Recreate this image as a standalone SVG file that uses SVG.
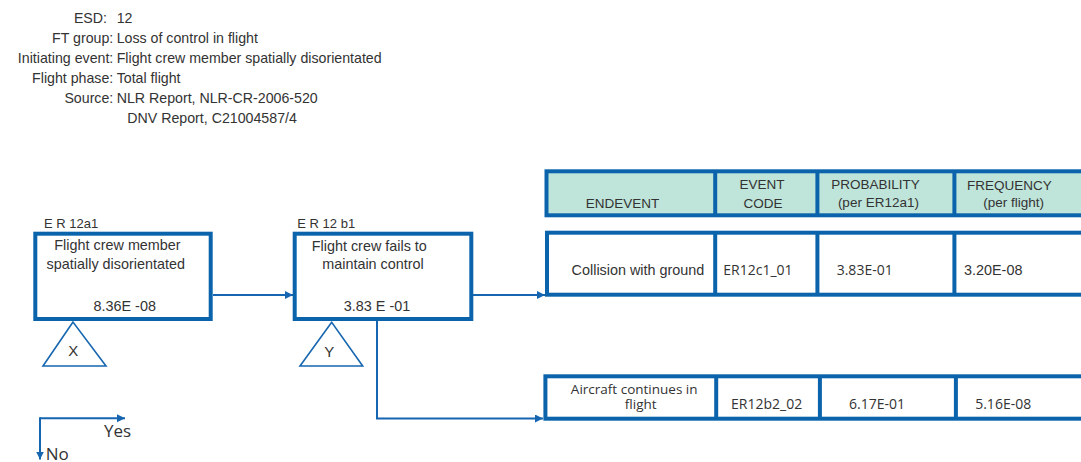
<svg xmlns="http://www.w3.org/2000/svg" width="1081" height="462" viewBox="0 0 1081 462">
<style>
text{font-family:"Liberation Sans",Arial,sans-serif;fill:#333}
.t{font-size:14.2px}
.b{font-size:14.4px}
.h{font-size:13.5px}
.o{font-family:"Open Sans","Liberation Sans",sans-serif;font-size:14px}
.o2{font-family:"Open Sans","Liberation Sans",sans-serif;font-size:13.5px}
.lab{font-size:13px}
.tri{font-size:15px}
.box{fill:#fff;stroke:#0b64ab;stroke-width:4}
.hdr{fill:#bfe4da;stroke:#0b64ab;stroke-width:4}
.sep{stroke:#0b64ab;stroke-width:4}
.tr{fill:none;stroke:#1767b0;stroke-width:1.6}
.c{fill:none;stroke:#1565b0;stroke-width:2}
.m{text-anchor:middle}
.e{text-anchor:end}
</style>
<defs>
<marker id="ah" markerUnits="userSpaceOnUse" markerWidth="9" markerHeight="9" refX="8" refY="4" orient="auto">
<path d="M0,0 L8,4 L0,8 Z" fill="#1565b0"/>
</marker>
</defs>

<g id="header-info" class="t">
<text x="107" y="22.7" class="e">ESD:</text><text x="116.7" y="22.7">12</text>
<text x="113.3" y="43" class="e">FT group:</text><text x="116.7" y="43">Loss of control in flight</text>
<text x="113.3" y="63" class="e">Initiating event:</text><text x="116.7" y="63">Flight crew member spatially disorientated</text>
<text x="113.3" y="83" class="e">Flight phase:</text><text x="116.7" y="83">Total flight</text>
<text x="113.3" y="103" class="e">Source:</text><text x="116.7" y="103">NLR Report, NLR-CR-2006-520</text>
<text x="127.3" y="122.5">DNV Report, C21004587/4</text>
</g>

<g id="connectors">
<line class="c" x1="213" y1="295" x2="293" y2="295" marker-end="url(#ah)"/>
<line class="c" x1="473" y1="295" x2="545" y2="295" marker-end="url(#ah)"/>
<polyline class="c" points="377,321 377,418.5 543,418.5" marker-end="url(#ah)"/>
</g>

<g id="ER12a1">
<text x="44" y="228.3" class="lab">E R 12a1</text>
<rect class="box" x="35.3" y="233.7" width="175.4" height="85.3"/>
<text x="117.5" y="250" class="b m">Flight crew member</text>
<text x="115.8" y="269.3" class="b m">spatially disorientated</text>
<text x="124.7" y="311" class="b m">8.36E -08</text>
</g>
<g id="X">
<polygon class="tr" points="73,322 43,366 106,366"/>
<text x="73.3" y="356" class="tri m">X</text>
</g>

<g id="ER12b1">
<text x="297.3" y="228.3" class="lab">E R 12 b1</text>
<rect class="box" x="294.7" y="233.7" width="176.6" height="85.3"/>
<text x="369.3" y="250.5" class="b m">Flight crew fails to</text>
<text x="373" y="269.3" class="b m">maintain control</text>
<text x="377" y="311" class="b m">3.83 E -01</text>
</g>
<g id="Y">
<polygon class="tr" points="331.7,322.3 300,366 362.7,366"/>
<text x="329.2" y="356.5" class="tri m">Y</text>
</g>

<g id="table-header">
<rect class="hdr" x="546.5" y="171.3" width="560" height="44"/>
<line class="sep" x1="715.2" y1="171" x2="715.2" y2="215.5"/>
<line class="sep" x1="817.4" y1="171" x2="817.4" y2="215.5"/>
<line class="sep" x1="954.4" y1="171" x2="954.4" y2="215.5"/>
<text x="622.5" y="207.7" class="h m">ENDEVENT</text>
<text x="762" y="189.3" class="h m">EVENT</text>
<text x="763" y="207.7" class="h m">CODE</text>
<text x="875.6" y="189.3" class="h m">PROBABILITY</text>
<text x="878.4" y="207.3" class="h m">(per ER12a1)</text>
<text x="1009.5" y="189.5" class="h m">FREQUENCY</text>
<text x="1013.7" y="207" class="h m">(per flight)</text>
</g>

<g id="ER12c1_01">
<rect class="box" x="547" y="232.7" width="560" height="62"/>
<line class="sep" x1="715.2" y1="232.5" x2="715.2" y2="295"/>
<line class="sep" x1="817.4" y1="232.5" x2="817.4" y2="295"/>
<line class="sep" x1="954.4" y1="232.5" x2="954.4" y2="295"/>
<text x="638" y="275" class="b m">Collision with ground</text>
<text x="723.3" y="275" class="o">ER12c1_01</text>
<text x="836.7" y="275" class="o">3.83E-01</text>
<text x="964" y="275" class="b">3.20E-08</text>
</g>

<g id="ER12b2_02">
<rect class="box" x="545.4" y="376.3" width="560" height="42.4"/>
<line class="sep" x1="716.2" y1="376" x2="716.2" y2="419"/>
<line class="sep" x1="819.9" y1="376" x2="819.9" y2="419"/>
<line class="sep" x1="955.9" y1="376" x2="955.9" y2="419"/>
<text x="634.2" y="393.8" class="o2 m">Aircraft continues in</text>
<text x="640.7" y="408.6" class="o2 m">flight</text>
<text x="731" y="409" class="o">ER12b2_02</text>
<text x="849" y="409" class="o">6.17E-01</text>
<text x="975.2" y="409" class="o">5.16E-08</text>
</g>

<g id="legend">
<line class="c" x1="40" y1="418.3" x2="125" y2="418.3" marker-end="url(#ah)"/>
<line class="c" x1="40" y1="417.3" x2="40" y2="459.5" marker-end="url(#ah)"/>
<text x="104" y="437.3" class="o" style="font-size:17px">Yes</text>
<text x="45.7" y="459.5" class="o" style="font-size:17px">No</text>
</g>
</svg>
